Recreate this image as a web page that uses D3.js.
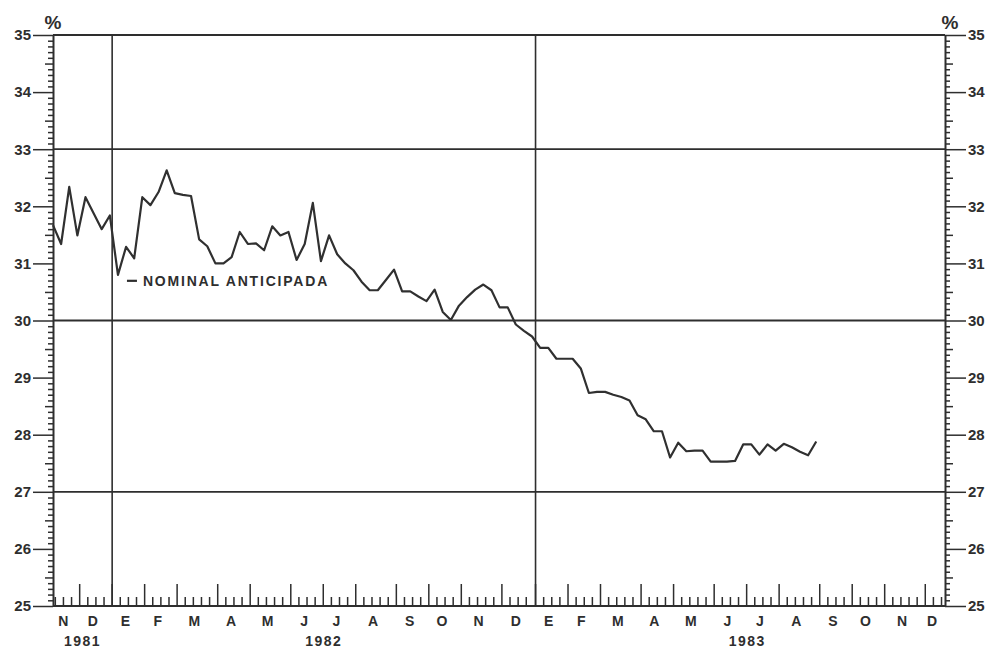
<!DOCTYPE html>
<html>
<head>
<meta charset="utf-8">
<script src="https://cdn.jsdelivr.net/npm/d3@7"></script>
<style>
  html, body { margin: 0; padding: 0; background: #ffffff; }
  svg { display: block; }
  text { font-family: "Liberation Sans", Arial, sans-serif; font-weight: bold; fill: #2e2e2e; }
  .ylab text { font-size: 15px; }
  .month { font-size: 14px; }
  .year { font-size: 14px; letter-spacing: 1.5px; }
  .pct { font-size: 19px; }
  .note { font-size: 14px; letter-spacing: 1.8px; }
</style>
</head>
<body>
<svg id="chart" width="1002" height="652"></svg>
<script>
// ---------------- data ----------------
const firstWeek = "1981-11-11";          // date of the first weekly observation
const rates = [                            // tasa nominal anticipada, % (weekly)
  31.67, 31.34, 32.34, 31.49, 32.16, 31.88, 31.60, 31.84, 30.80, 31.29,
  31.09, 32.16, 32.02, 32.25, 32.63, 32.23, 32.20, 32.18, 31.42, 31.30,
  31.00, 31.00, 31.11, 31.55, 31.34, 31.35, 31.23, 31.65, 31.49, 31.55,
  31.06, 31.34, 32.06, 31.04, 31.49, 31.16, 31.00, 30.88, 30.68, 30.53,
  30.53, 30.71, 30.89, 30.51, 30.51, 30.42, 30.34, 30.54, 30.15, 30.01,
  30.26, 30.41, 30.54, 30.63, 30.53, 30.23, 30.23, 29.93, 29.82, 29.72,
  29.52, 29.52, 29.33, 29.33, 29.33, 29.16, 28.73, 28.75, 28.75, 28.70,
  28.66, 28.60, 28.34, 28.27, 28.06, 28.06, 27.60, 27.86, 27.71, 27.72,
  27.72, 27.53, 27.53, 27.53, 27.54, 27.83, 27.83, 27.65, 27.83, 27.72,
  27.84, 27.78, 27.70, 27.64, 27.88
];
const axisStart = "1981-11-11";
const axisEnd = "1983-12-20";
const yearStarts = ["1982-01-01", "1983-01-01"];
const yearLabels = ["1981", "1982", "1983"];
const monthLetters = ["E", "F", "M", "A", "M", "J", "J", "A", "S", "O", "N", "D"];
const yMajor = [25, 26, 27, 28, 29, 30, 31, 32, 33, 34, 35];
const gridValues = [27, 30, 33, 35];
const seriesLabel = "NOMINAL ANTICIPADA";
const unitLabel = "%";

// ---------------- scales ----------------
const parse = d3.timeParse("%Y-%m-%d");
const ink = "#2e2e2e";
const L = 53, R = 945, T = 35, B = 606;
const x = d3.scaleTime().domain([parse(axisStart), parse(axisEnd)]).range([L, R]);
const y = d3.scaleLinear().domain([25, 35]).range([B, T]);
const svg = d3.select("#chart");

const t0 = parse(firstWeek);
const data = rates.map((v, i) => ({ date: d3.timeDay.offset(t0, 7 * i), value: v }));

// ---------------- grid ----------------
svg.append("g").selectAll("line").data(gridValues).join("line")
  .attr("x1", L).attr("x2", R)
  .attr("y1", d => y(d)).attr("y2", d => y(d))
  .attr("stroke", ink).attr("stroke-width", 1.8);

svg.append("g").selectAll("line").data(yearStarts.map(parse)).join("line")
  .attr("x1", d => x(d)).attr("x2", d => x(d))
  .attr("y1", y(35)).attr("y2", y(25))
  .attr("stroke", ink).attr("stroke-width", 1.6);

// ---------------- y axes ----------------
const minor = d3.range(251, 350).filter(d => d % 10 !== 0 && d % 5 !== 0).map(d => d / 10);
const half = d3.range(255, 350, 10).map(d => d / 10);

function yAxes(gen, tx, big) {
  const gMinor = svg.append("g").attr("transform", `translate(${tx},0)`)
    .call(gen(y).tickValues(minor).tickSize(5).tickFormat(""));
  gMinor.select(".domain").remove();
  const gHalf = svg.append("g").attr("transform", `translate(${tx},0)`)
    .call(gen(y).tickValues(half).tickSize(8).tickFormat(""));
  gHalf.select(".domain").remove();
  const gMaj = svg.append("g").attr("class", "ylab").attr("transform", `translate(${tx},0)`)
    .call(gen(y).tickValues(yMajor).tickSize(big).tickSizeOuter(0).tickPadding(2).tickFormat(d3.format("d")));
  [gMinor, gHalf, gMaj].forEach(g => {
    g.attr("color", ink).attr("font-family", null).attr("font-size", null);
    g.selectAll("line").attr("stroke-width", 1.5);
  });
  gMaj.select(".domain").attr("stroke-width", 2);
}
yAxes(d3.axisLeft, L, 20);
yAxes(d3.axisRight, R, 21);

svg.append("text").attr("class", "pct").attr("x", L).attr("y", 29)
  .attr("text-anchor", "middle").text(unitLabel);
svg.append("text").attr("class", "pct").attr("x", R + 5).attr("y", 29)
  .attr("text-anchor", "middle").text(unitLabel);

// ---------------- x axis (weekly ruler) ----------------
const [d0, d1] = x.domain();
const jan82 = parse(yearStarts[0]);
let weekTicks = [];
for (let d = d3.timeDay.offset(jan82, -7); d >= d0; d = d3.timeDay.offset(d, -7)) weekTicks.push(d);
[1982, 1983].forEach(yr => {
  const next = new Date(yr + 1, 0, 1);
  for (let d = new Date(yr, 0, 1); d < d3.timeDay.offset(next, -3) && d <= d1; d = d3.timeDay.offset(d, 7)) weekTicks.push(d);
});
weekTicks.sort((a, b) => a - b);

const monthStarts = d3.timeMonth.range(d3.timeMonth.ceil(d0), d1);
const tall = monthStarts.map(m => weekTicks.reduce((best, t) =>
  Math.abs(t - m) < Math.abs(best - m) ? t : best));
const tallSet = new Set(tall.map(t => +t));

svg.append("line").attr("x1", L).attr("x2", R).attr("y1", B).attr("y2", B)
  .attr("stroke", ink).attr("stroke-width", 2);

svg.append("g").selectAll("line").data(weekTicks).join("line")
  .attr("x1", d => x(d)).attr("x2", d => x(d))
  .attr("y1", B).attr("y2", d => B - (tallSet.has(+d) ? 22 : 9))
  .attr("stroke", ink).attr("stroke-width", 1.5);

// month letters
const months = d3.timeMonth.range(d3.timeMonth.floor(d0), d1);
svg.append("g").selectAll("text").data(months).join("text")
  .attr("class", "month")
  .attr("x", (m, i) => {
    const a = i === 0 ? d0 : tall[i - 1];
    const b = i < months.length - 1 ? tall[i] : d1;
    return (x(a) + x(b)) / 2 - 3;
  })
  .attr("y", 626)
  .attr("text-anchor", "middle")
  .text(m => monthLetters[m.getMonth()]);

// year labels
svg.append("g").selectAll("text").data(yearLabels).join("text")
  .attr("class", "year")
  .attr("x", yl => {
    const a = new Date(+yl, 0, 1), b = new Date(+yl + 1, 0, 1);
    return (x(a < d0 ? d0 : a) + x(b)) / 2;
  })
  .attr("y", 646)
  .attr("text-anchor", "middle")
  .text(d => d);

// ---------------- series ----------------
const line = d3.line().x(d => x(d.date)).y(d => y(d.value));
svg.append("path").datum(data)
  .attr("d", line)
  .attr("fill", "none")
  .attr("stroke", "#303030")
  .attr("stroke-width", 2.2)
  .attr("stroke-linejoin", "round");

// series label with leader dash, attached to the 9th observation
const anchor = data[8];
const note = svg.append("g")
  .attr("transform", `translate(${x(anchor.date)},${y(anchor.value)})`);
note.append("line").attr("x1", 9).attr("x2", 19).attr("y1", 6).attr("y2", 6)
  .attr("stroke", ink).attr("stroke-width", 2.2);
note.append("text").attr("class", "note").attr("x", 25).attr("y", 11).text(seriesLabel);
</script>
</body>
</html>
